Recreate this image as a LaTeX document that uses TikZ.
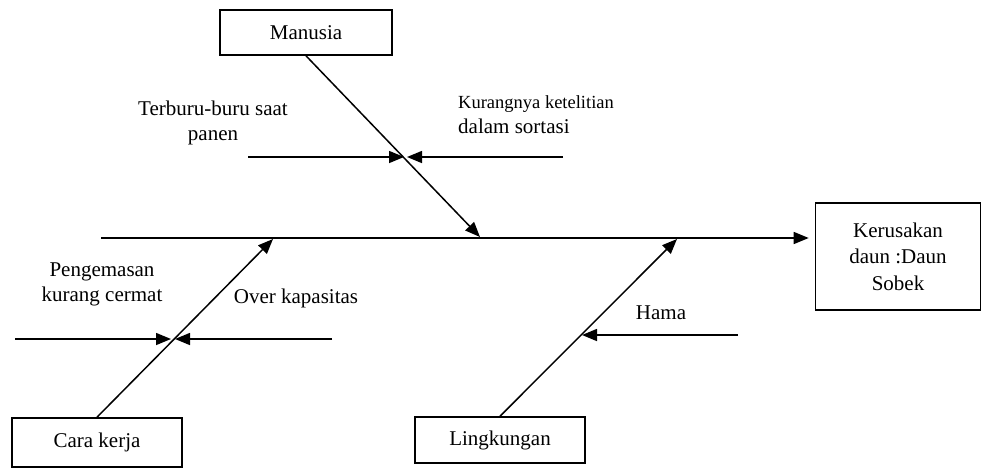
\documentclass[tikz,border=0pt]{standalone}
\usepackage{fontspec}
\setmainfont{Liberation Serif}
\usetikzlibrary{arrows.meta}
\begin{document}
\begin{tikzpicture}[x=1pt,y=-1pt,
  box/.style={draw, line width=1.6pt, inner sep=0pt},
  lbl/.style={inner sep=0pt, align=center, font=\fontsize{21}{25}\selectfont},
  conn/.style={line width=1.5pt, -{Triangle[length=15pt,width=12pt]}},
  plain/.style={line width=1.5pt}]
\useasboundingbox (0,0) rectangle (982,469);
% boxes
\node[box, minimum width=172pt, minimum height=45pt, lbl] (man) at (306,32.5) {Manusia};
\node[box, minimum width=170pt, minimum height=49pt, lbl] (cara) at (97,442.5) {Cara kerja};
\node[box, minimum width=170pt, minimum height=46pt, lbl] (ling) at (500,440) {Lingkungan};
\node[box, minimum width=165pt, minimum height=107pt, lbl, font=\fontsize{21}{26.5}\selectfont] (ker) at (898,256.5) {Kerusakan\\daun :Daun\\Sobek};
% spine
\coordinate (s0) at (101,238);
\draw[conn, shorten >=6pt] (s0) -- (s0 -| ker.west);
% main bones
\coordinate (mt) at (480,237);
\coordinate (ct) at (273,239);
\coordinate (lt) at (677,239);
\draw[conn] (man.south) -- (mt);
\draw[conn] (cara.north) -- (ct);
\draw[conn] (ling.north) -- (lt);
% sub causes - Manusia
\coordinate (a0) at (248,157);
\coordinate (a1) at (404,157);
\coordinate (b0) at (563,157);
\coordinate (b1) at (407,157);
\draw[conn] (a0) -- (a1);
\draw[conn] (b0) -- (b1);
\node[lbl] (t1) at (213,123) {Terburu-buru saat\\panen};
\node[lbl, align=left, anchor=west] (t2) at (458,115) {{\fontsize{18.5}{22}\selectfont Kurangnya ketelitian}\\dalam sortasi};
% sub causes - Cara kerja
\coordinate (c0) at (15,339);
\coordinate (c1) at (171,339);
\coordinate (d0) at (332,339);
\coordinate (d1) at (175,339);
\draw[conn] (c0) -- (c1);
\draw[conn] (d0) -- (d1);
\node[lbl] (t3) at (102,284) {Pengemasan\\kurang cermat};
\node[lbl] (t4) at (296,298) {Over kapasitas};
% sub causes - Lingkungan
\coordinate (e0) at (738,335);
\coordinate (e1) at (582,335);
\draw[conn] (e0) -- (e1);
\node[lbl] (t5) at (661,313) {Hama};
\end{tikzpicture}
\end{document}
